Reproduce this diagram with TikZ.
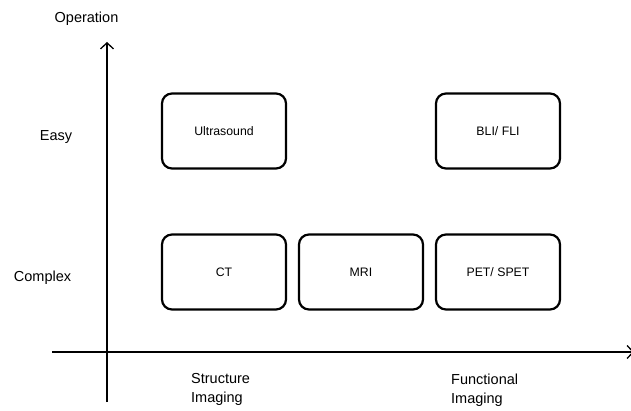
\documentclass[tikz,border=0pt]{standalone}
\usepackage{fontspec}
\setmainfont{Liberation Sans}
\usetikzlibrary{arrows.meta}
\begin{document}
\begin{tikzpicture}[x=1pt,y=-1pt,
  box/.style={draw,line width=2.2pt,rounded corners=10pt,minimum width=124pt,minimum height=75pt,font=\fontsize{12.3}{14}\selectfont,inner sep=0pt},
  lbl/.style={font=\fontsize{14.5}{19}\selectfont,inner sep=0pt},
  barb/.style={-{Straight Barb[length=6pt,width=13pt,line width=1.3pt]}}]
\useasboundingbox (0,0) rectangle (631,411);
\node[box] (us) at (224,131) {Ultrasound};
\node[box] (bli) at (498,131) {BLI/ FLI};
\node[box] (ct) at (224,272) {CT};
\node[box] (mri) at (361,272) {MRI};
\node[box] (pet) at (498,272) {PET/ SPET};
\coordinate (vb) at (107,402);
\coordinate (vt) at (107,42);
\coordinate (hl) at (52,352);
\coordinate (hr) at (634,352);
\draw[barb,line width=1.6pt] (vb) -- (vt);
\draw[barb,line width=1.2pt] (hl) -- (hr);
\node[lbl,anchor=base] (op) at (86.5,23) {Operation};
\node[lbl,anchor=base] (easy) at (56,141) {Easy};
\node[lbl,anchor=base] (cx) at (42.5,282) {Complex};
\node[lbl,align=left,anchor=north west] (si) at (191,373.5) {Structure\\Imaging};
\node[lbl,align=left,anchor=north west] (fi) at (451,373.5) {Functional\\Imaging};
\end{tikzpicture}
\end{document}
